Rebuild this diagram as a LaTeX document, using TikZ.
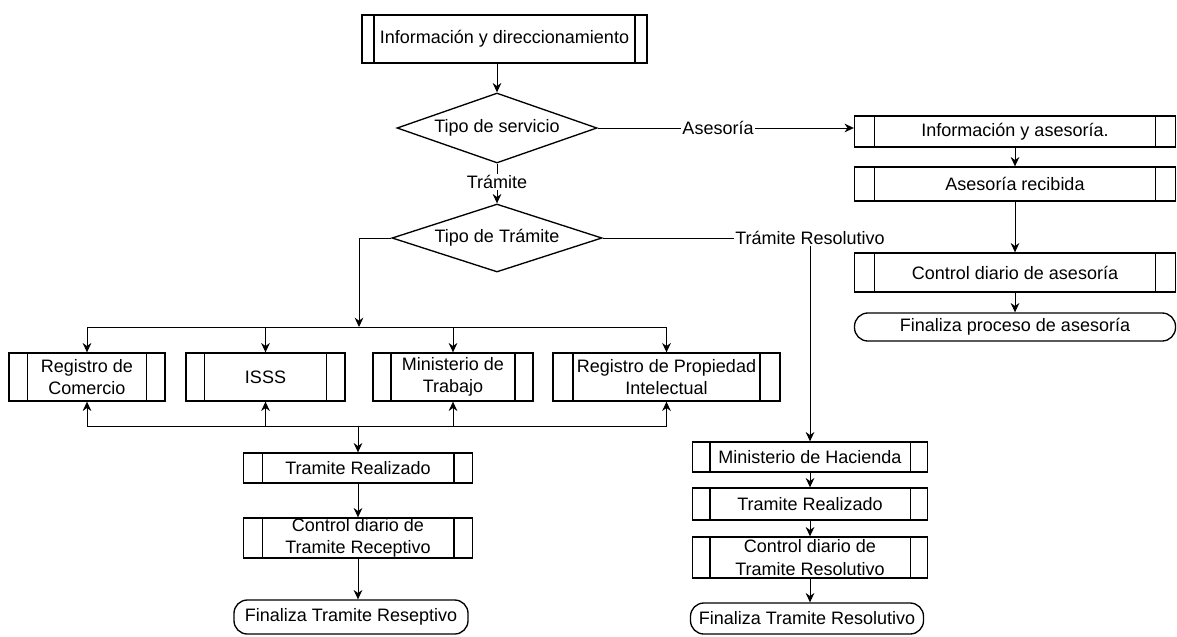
\documentclass[tikz,border=0pt]{standalone}
\usepackage{fontspec}
\setmainfont{Liberation Sans}
\usetikzlibrary{shapes.geometric,arrows.meta}
\begin{document}
\begin{tikzpicture}[x=0.75pt,y=-0.75pt,
  every node/.style={font=\fontsize{13.5}{17}\selectfont},
  proc/.style={draw, line width=1pt, inner sep=0pt, align=center,
    path picture={
      \draw[line width=1pt] ([xshift=#1]path picture bounding box.north west) -- ([xshift=#1]path picture bounding box.south west);
      \draw[line width=1pt] ([xshift=-#1]path picture bounding box.north east) -- ([xshift=-#1]path picture bounding box.south east);}},
  proc/.default=14pt,
  decision/.style={draw, line width=1pt, diamond, aspect=2.8, inner sep=0pt},
  terminal/.style={draw, line width=1pt, rounded corners=10pt, inner sep=0pt, align=center},
  lbl/.style={inner sep=1pt},
  link/.style={line width=0.7pt},
  arr/.style={link, -{Stealth[length=7pt,width=6.5pt]}}]
\useasboundingbox (0,0) rectangle (1177,636);

% main entry and first decision
\node[proc=9pt, minimum width=213.75pt, minimum height=36pt] (info) at (504.5,39) {Información y direccionamiento};
\node[decision, minimum width=150pt, minimum height=52.5pt] (d1) at (497,128) {Tipo de servicio};
\node[lbl] (lt) at (497,182) {Trámite};
\node[decision, minimum width=157.5pt, minimum height=51pt] (d2) at (497,238) {Tipo de Trámite};

% advisory branch
\node[lbl] (la) at (718,128) {Asesoría};
\node[proc=15pt, minimum width=240.75pt, minimum height=23.25pt] (ia) at (1015,131.5) {Información y asesoría.};
\node[proc=15pt, minimum width=240.75pt, minimum height=25.5pt] (ar) at (1015,184) {Asesoría recibida};
\node[proc=15pt, minimum width=240.75pt, minimum height=29.25pt] (cda) at (1015,272.5) {Control diario de asesoría};
\node[terminal, minimum width=240.75pt, minimum height=21pt] (fpa) at (1015,327) {Finaliza proceso de asesoría};

% receptive procedures
\node[proc, minimum width=117pt, minimum height=36pt] (rc) at (87,377) {Registro de\\Comercio};
\node[proc, minimum width=119.25pt, minimum height=36pt] (isss) at (265.5,377) {ISSS};
\node[proc=13.5pt, minimum width=120pt, minimum height=36pt] (mt) at (453,377) {Ministerio de\\Trabajo};
\node[proc=15pt, minimum width=170.25pt, minimum height=36pt] (rpi) at (666.5,377) {Registro de Propiedad\\Intelectual};
\node[proc, minimum width=171.75pt, minimum height=22.5pt] (tr1) at (358,468) {Tramite Realizado};
\node[proc, minimum width=171.75pt, minimum height=30pt] (cdr) at (358,538) {Control diario de\\Tramite Receptivo};
\node[terminal, minimum width=175.5pt, minimum height=25.5pt] (ftr) at (351,617) {Finaliza Tramite Reseptivo};

% resolutive procedures
\node[lbl] (lr) at (810,238) {Trámite Resolutivo};
\node[proc=13pt, minimum width=176.25pt, minimum height=22.5pt] (mh) at (810,457) {Ministerio de Hacienda};
\node[proc=13pt, minimum width=176.25pt, minimum height=24pt] (tr2) at (810,504) {Tramite Realizado};
\node[proc=13pt, minimum width=176.25pt, minimum height=30.75pt] (cdres) at (810,557.5) {Control diario de\\Tramite Resolutivo};
\node[terminal, minimum width=174.75pt, minimum height=23.25pt] (ftres) at (807,618.5) {Finaliza Tramite Resolutivo};

% bus junctions
\coordinate (bt) at (359,327);
\coordinate (bb) at (358,426);

% connectors
\draw[arr] (info.south -| d1.north) -- (d1.north);
\draw[link] (d1.south) -- (lt.north);
\draw[arr] (lt.south) -- (d2.north);
\draw[link] (d1.east) -- (la.west);
\draw[arr] (la.east) -- (la.east -| ia.west);
\draw[arr] (ia.south) -- (ar.north);
\draw[arr] (ar.south) -- (cda.north);
\draw[arr] (cda.south) -- (fpa.north);

\draw[link] (d2.east) -- (lr.west);
\draw[arr] (lr.south) -- (mh.north);
\draw[arr] (mh.south) -- (tr2.north);
\draw[arr] (tr2.south) -- (cdres.north);
\draw[arr] (cdres.south) -- (cdres.south |- ftres.north);

\draw[arr] (d2.west) -| (bt);
\draw[link] (rc.north |- bt) -- (rpi.north |- bt);
\draw[link] (rc.south |- bb) -- (rpi.south |- bb);
\foreach \n in {rc,isss,mt,rpi}{
  \draw[arr] (\n.north |- bt) -- (\n.north);
  \draw[arr] (\n.south |- bb) -- (\n.south);
}
\draw[arr] (bb) -- (tr1.north);
\draw[arr] (tr1.south) -- (cdr.north);
\draw[arr] (cdr.south) -- (cdr.south |- ftr.north);
\end{tikzpicture}
\end{document}
